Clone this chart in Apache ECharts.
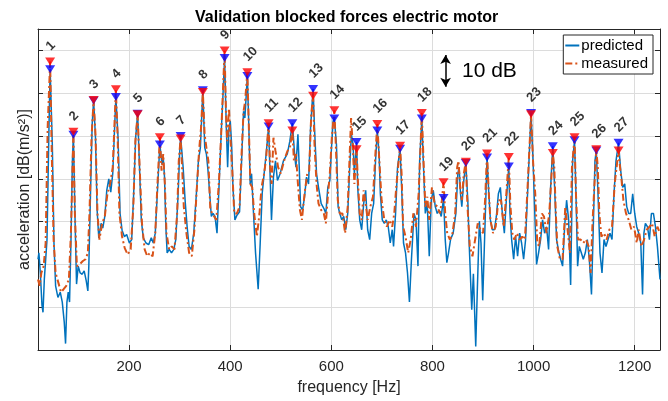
<!DOCTYPE html>
<html><head><meta charset="utf-8">
<script src="https://cdn.jsdelivr.net/npm/echarts@6/dist/echarts.min.js"></script>
<style>html,body{margin:0;padding:0;background:#fff}#c{width:668px;height:401px}</style>
</head><body><div id="c"></div>
<script>
// ---- data ----
const xTicks = [200, 400, 600, 800, 1000, 1200];
const peakFreq = [44,90,130,174,217,261,302,346,389,434,476,523,564,606,650,691,736,779,822,866,908,951,995,1038,1081,1124,1168];
const peakPred = [65.6,50.3,58.3,59.1,55.2,48.0,50.0,60.7,68.2,64.0,52.2,53.0,61.0,54.1,48.6,51.3,47.0,54.1,35.5,43.7,45.0,42.9,55.4,47.6,49.0,46.6,48.4];
const peakMeas = [67.4,51.0,58.4,60.9,55.1,49.7,49.4,60.3,70.0,64.9,53.0,51.3,59.4,56.0,46.9,52.8,47.7,55.4,39.2,44.0,45.9,45.1,55.1,46.0,49.7,46.9,46.6];

const predicted = [
[20,21.2],[21.8,22.7],[24.6,18],[27.9,10.4],[29.9,8.8],[32.5,16.5],[35.1,21],[37.8,25.8],[41.7,52],[44,65.6],[48.3,48],[51.6,25],[54.8,15],[59.4,12.3],[64,13.5],[68,11.2],[71.9,6.5],[74.5,1.5],[77.2,11.2],[79.8,13.5],[82.4,11.2],[85.1,25],[88,44],[90,50.3],[93.6,28.8],[96.2,15.4],[99.5,19.6],[103.4,18],[107.4,17.7],[111.3,18.5],[115.3,16.2],[118.6,13.8],[120.5,19.6],[123.8,36.5],[127.1,52.7],[130,58.3],[133.7,49.6],[136.9,32.7],[140.2,26.2],[144.8,29.6],[148.1,28.5],[152.1,31.2],[156,37.3],[160,40],[163.9,36.9],[167.8,41.2],[171.5,52],[174,59.1],[178.3,49.6],[182.3,31.9],[186.2,28],[190.8,26.5],[195.4,27],[200.7,25],[205.3,25.8],[209.2,36.5],[213.1,49.6],[217,55.2],[220.4,44],[224.3,30.4],[228.2,26.2],[233.5,25],[238.8,24.6],[244,26.2],[248,25],[251.9,27.3],[255.9,36.5],[261,48.0],[265.1,43.5],[267.6,45],[270.2,40.4],
[272.8,28.8],[275.4,22.7],[279.4,23.5],[284,22.7],[288.6,23.5],[292.5,25.8],[297.1,36.5],[300,45.8],[302,50.0],[307,42.7],[310.9,35],[314.9,28.8],[318.8,24.2],[323.4,23.5],[328,27.3],[333.2,36.5],[337.2,44.2],[341.1,47.3],[346,60.7],[349.7,47.3],[353,45.8],[356.2,41.9],[359.5,36.5],[362.8,31.2],[366.1,31.9],[370,31.2],[374,27.3],[377.9,38],[381.9,49.6],[385.8,59.6],[389,68.2],[392.4,51.9],[395,42.7],[397.6,51.9],[400.2,53.5],[402.9,48],[405.5,38],[409.4,30.4],[413.4,31.5],[418.6,32.3],[422.6,44.2],[426.5,55.8],[429.1,54.2],[434,64.0],[437,51.9],[439.6,38.8],[442.3,41.2],[446.2,31.9],[450.2,22.7],[455.4,14.2],[459.4,25],[463.3,36.5],[467.2,41.2],[471.2,45.8],[476,52.2],[479.1,40.4],[481.7,30.4],[485.6,40.4],[489.6,44.2],[493.5,39.6],[498.8,41.2],[505.3,44.2],
[513,45.8],[518,48.8],[523,53.0],[527.4,45.8],[530,42.7],[534,50.4],[536.6,42.7],[539.2,33.5],[543.2,32.7],[547.1,35.8],[551,40.4],[555,38.8],[559,51.9],[564,61.0],[566.8,51.9],[570.8,41.2],[574.7,38],[580,34.2],[585.2,33.1],[589.2,31.9],[593.1,38],[597.1,39.6],[599.7,45.8],[603.6,53.5],[606,54.1],[610.2,48],[613.5,33.5],[616.7,31.9],[620.7,30.4],[624.6,31.2],[628.6,28.1],[632.5,31.9],[636.4,42.7],[639.7,50.4],[643,48],[645.6,41.2],[650,48.6],[652.2,38],[656.2,30.4],[660.1,28.1],[664,34.2],[668,37.3],[671.9,28.1],[675.9,25.8],[679.8,31.9],[683.7,34.2],[687.5,44.2],[691,51.3],[694.5,45.8],[697,36.5],[700.8,30.4],[704.8,29.6],[708.7,30.4],[712.6,28.8],[716.6,25],[720.5,28.1],[723.1,24.2],[727.1,31.9],[731,42.7],[736,47.0],[739.6,36.5],[742.8,25],[746.8,22.7],[750.7,18],[754.5,11.2],[758.5,21.2],
[763.5,31.9],[767.5,30.4],[771.4,19.6],[774.7,44.2],[779,54.1],[781.9,44.2],[785.9,31.9],[789.8,34.2],[793.7,21.9],[797.7,35],[801.6,37.3],[805.6,33.5],[809.5,31.9],[813.4,32.7],[817.4,31.2],[822,35.5],[825.3,25.8],[828.5,20.4],[831.8,22.7],[835.8,25.8],[841,27.3],[846.3,31.9],[850.2,41.2],[852.8,42.7],[855.5,36.5],[858.1,33.5],[862,39.6],[866,43.7],[869.9,35],[872.6,25],[877.7,9.4],[881,17.8],[885.6,0.8],[889,15],[892.8,30.1],[896,25],[899.4,11.6],[904,29.3],[908,45.0],[911.5,36.5],[914.6,30.4],[918.5,28.1],[922.5,28.1],[926.4,31.2],[930.4,36.5],[934.3,38],[938.2,31.9],[942.2,27.3],[946.1,35],[951,42.9],[953.3,31.9],[956.6,25.8],[960.6,21.2],[964.5,26.5],[968.4,21.9],[972.4,27.3],[976.3,25],[980.3,21.2],[984.2,25.8],[988.1,36.5],[995,55.4],[999,44],
[1003.3,28.8],[1005.9,20],[1009.9,22.7],[1013.9,25.8],[1017.8,30.4],[1021.8,27.3],[1025.7,28.8],[1029.7,23.5],[1033.7,38],[1038,47.6],[1041.6,38],[1045.5,25.8],[1049.5,23.1],[1053.5,21.2],[1057.4,19.6],[1061.4,28.8],[1065.3,35],[1069.3,30.4],[1073.3,15.2],[1077.2,44.2],[1081,49.0],[1083.8,36.5],[1087.1,19.6],[1090.4,24.2],[1094.4,22.7],[1098.3,21.2],[1102.3,22.7],[1106.3,25.8],[1110.2,21.2],[1114.5,13],[1118.1,28.8],[1121.4,44.2],[1124,46.6],[1127.4,36.5],[1131.3,22.7],[1135.3,18],[1139.3,25.8],[1143.2,24.2],[1147.2,25.8],[1151.1,27.3],[1155.1,25.8],[1159.1,36.5],[1163,44.2],[1168,48.4],[1172.3,41.9],[1176.2,38],[1180.2,38.8],[1184.2,33.5],[1188.1,31.9],[1192.1,31.9],[1196,36.5],[1200,31.9],[1204,28.8],[1208,27.3],[1212,25],[1215.5,13],[1218.2,27.3],[1221.1,29.6],[1225.1,28.8],[1229.1,25.8],[1233,31.9],[1237,31.9],[1241,28.8],[1244.9,24.2],[1250,16.5]
];

const measured = [
[20,16.5],[23.3,15],[26.6,18],[31.2,19.6],[35.1,25],[39.1,52],[44,67.4],[47,47.3],[50.9,25.8],[54.8,18],[60.1,15.8],[65.4,13.5],[70.6,14.2],[75.9,15],[81.1,16.5],[85.1,27.3],[90,51.0],[92.9,31.9],[96.9,19.6],[102.1,20],[108.7,20.8],[114,21.2],[118.6,22.7],[121.8,31.9],[125.8,49.6],[130,58.4],[133.7,50.4],[137.6,31.9],[141.5,25.8],[146.8,29.6],[152.1,31.2],[157.3,36.5],[162.6,38.8],[167.8,42.7],[174,60.9],[177.5,49.6],[181,31.9],[186.2,26.5],[191.5,23.8],[197.4,22.3],[203.3,23.5],[208.5,33.5],[212.5,48.8],[217,55.1],[221,42.7],[225.6,29.6],[230.9,23.5],[236.1,21.9],[241.4,22.7],[246.6,21.9],[251.9,27.3],[255.9,38],[261,49.7],[264.3,41.9],[267.6,45.8],[270.9,38.8],[274.1,27.3],[279.4,23.5],[284.6,24.2],[289.9,23.5],[295.2,31.9],[298.4,44.2],[302,49.4],[305.3,41.9],[308.3,33.5],[313.5,27.3],[318.8,22.7],[324.1,21.9],[329.3,28.1],[334.6,38.8],[338.5,46.5],[342.4,51.9],[346,60.3],[349.5,50.4],[353,47.3],[356.9,44.2],[360.8,32.7],[364.8,31.9],[368.7,31.9],[372.7,30.4],[377.9,39.6],[381.9,49.6],[389,70.0],[391.8,55],[394.3,48.8],[397.6,56.5],[400.2,50.4],[404.2,41.9],[408.1,31.9],[413.4,31.9],[418.6,33.5],[422.6,45.8],[426.5,55.8],[429.5,58],[434,64.9],[437.5,49.6],[440,38.8],[443.6,38],[447.5,31.9],[452.8,26.5],[458,31.9],[462,38],[467.2,41.2],[471.2,45],[476,53.0],[479,42.7],[482,38.8],[485.6,49.6],[489.6,46.5],[494.8,42.7],[500.1,41.2],[506.6,44.2],[513.2,46.5],
[518.2,47.3],[523,51.3],[526.1,44.2],[530.1,45.8],[534,38.8],[538,32.7],[541.9,30.4],[547.1,36.5],[552.4,41.2],[556.3,41.9],[560.3,55],[564,59.4],[566.8,48],[570.8,38.8],[574.7,34.2],[580,32.7],[585.2,31.9],[589.2,29.6],[593.1,35.8],[597.1,41.2],[601,49.6],[606,56.0],[608.9,48],[612.8,35],[616.7,31.9],[622,31.9],[627.3,27.3],[632.5,33.5],[636.4,45.8],[639.1,54.2],[642.4,48],[645.6,38.8],[650,46.9],[652.2,40.4],[656.2,31.9],[660.1,30.4],[664,37.3],[668,34.2],[671.9,30.4],[677.2,33.5],[682.4,35.8],[687.2,45.8],[691,52.8],[695,44.2],[699.5,35],[704.8,30.4],[710,28.8],[715.3,30.4],[720.5,28.8],[724.5,31.9],[728.4,38],[736,47.7],[739,41.2],[742,28.8],[746.8,26.5],[752,22.7],[757,25.8],
[762.2,31.9],[767.5,28.8],[772.7,36.5],[779,55.4],[781.9,45.8],[785.9,33.5],[789.8,35.8],[793.7,30.4],[799,38],[804.2,34.2],[809.5,33.5],[814.8,31.9],[818.7,35],[822,39.2],[825.3,31.9],[829.2,27.3],[834.5,25.8],[839.7,27.3],[845,31.9],[848.9,42.7],[851.5,44.2],[854.8,38],[858.1,35],[862,41.2],[866,44.0],[869.3,33.5],[873.9,24.2],[879.1,21.9],[884.4,25.8],[889.6,29.6],[894.9,28.1],[900.1,27.3],[904.1,35],[908,45.9],[911.5,36.5],[914.6,30.4],[919.8,27.3],[925.1,28.8],[930.4,35],[935.6,35],[940.9,28.8],[946.1,36.5],[951,45.1],[954,34.2],[957.9,27.3],[961.9,25.8],[967.1,27.3],[972.4,25.8],[977.6,26.5],[982.9,25.8],[988.1,38],[995,55.1],[999,44],
[1003.3,36.5],[1007.3,25],[1011.2,24.2],[1016.5,31.9],[1020.5,31.2],[1025.7,27.3],[1031,31.9],[1038,46.0],[1041,42.7],[1044,31.9],[1046.9,24.2],[1052.1,21.2],[1057.4,21.2],[1062.7,33.5],[1068,27.3],[1071.9,22.7],[1075.9,42.7],[1081,49.7],[1083.8,36.5],[1087.7,25.8],[1093.1,25.8],[1098.3,25],[1103.6,25.8],[1108.9,24.2],[1112.8,18],[1116.8,30.4],[1124,46.9],[1127,42.7],[1130,31.9],[1134,26.5],[1139.3,27.3],[1144.5,25.8],[1149.8,28.1],[1155.1,28.8],[1160.4,38.8],[1168,46.6],[1171,42.7],[1174,39.6],[1177.6,35],[1182.8,31.9],[1188.1,30.4],[1193.4,28.1],[1198.7,28.8],[1204,25],[1208,28.1],[1213.2,24.2],[1218.5,25.8],[1223.8,28.1],[1229.1,28.8],[1234.3,29.6],[1239.6,26.5],[1244.9,28.8],[1250,27.3]
];

// 10 dB scale bar (frequency, dB from-to)
const scaleBar = {f: 826, from: 68.9, to: 61.5};

// ---- chart ----
const FONT = 'Liberation Sans, Arial, Helvetica, sans-serif';
const AX = '#262626';
const chart = echarts.init(document.getElementById('c'), null, {renderer: 'canvas'});
const labelData = peakFreq.map((f, i) => [f, Math.max(peakPred[i], peakMeas[i])]);

chart.setOption({
  animation: false,
  textStyle: {fontFamily: FONT},
  title: {
    text: 'Validation blocked forces electric motor',
    left: 190, top: 5,
    textStyle: {fontFamily: FONT, fontSize: 16, fontWeight: 'bold', color: '#000'}
  },
  grid: {left: 38, right: 8, top: 29, bottom: 48, containLabel: false},
  legend: {
    data: ['predicted', 'measured'],
    orient: 'vertical', right: 15, top: 35, z: 20,
    itemWidth: 14, itemHeight: 10, itemGap: 3,
    padding: [3, 5, 3, 1],
    itemStyle: {opacity: 0},
    backgroundColor: '#fff', borderColor: AX, borderWidth: 1, borderRadius: 0,
    textStyle: {fontFamily: FONT, fontSize: 15, color: '#000', padding: [0, 0, 0, -3]}
  },
  xAxis: [{
    type: 'value', min: 20, max: 1250,
    name: 'frequency [Hz]', nameLocation: 'middle', nameGap: 30,
    nameTextStyle: {fontFamily: FONT, fontSize: 16, color: AX},
    axisLine: {show: true, onZero: false, lineStyle: {color: AX, width: 1}},
    axisTick: {show: true, inside: true, length: 5, customValues: xTicks, lineStyle: {color: AX}},
    axisLabel: {customValues: xTicks, formatter: v => String(v), fontFamily: FONT, fontSize: 15, color: AX, margin: 9},
    splitLine: {show: true, lineStyle: {color: '#dcdcdc', width: 1}}
  }, {
    type: 'value', min: 20, max: 1250, position: 'top',
    axisLine: {show: true, onZero: false, lineStyle: {color: AX, width: 1}},
    axisTick: {show: true, inside: true, length: 5, customValues: xTicks, lineStyle: {color: AX}},
    axisLabel: {show: false}, splitLine: {show: false}
  }],
  yAxis: [{
    type: 'value', min: 0, max: 75, interval: 10,
    name: 'acceleration [dB(m/s²)]', nameLocation: 'middle', nameGap: 5, nameRotate: 90,
    nameTextStyle: {fontFamily: FONT, fontSize: 16, color: AX},
    axisLine: {show: true, onZero: false, lineStyle: {color: AX, width: 1}},
    axisTick: {show: true, inside: true, length: 5, lineStyle: {color: AX}},
    axisLabel: {show: false},
    splitLine: {show: true, lineStyle: {color: '#dcdcdc', width: 1}}
  }, {
    type: 'value', min: 0, max: 75, interval: 10, position: 'right',
    axisLine: {show: true, onZero: false, lineStyle: {color: AX, width: 1}},
    axisTick: {show: true, inside: true, length: 5, lineStyle: {color: AX}},
    axisLabel: {show: false}, splitLine: {show: false}
  }],
  series: [{
    name: 'predicted', type: 'line', data: predicted, showSymbol: false, symbol: 'none',
    lineStyle: {color: '#0072BD', width: 1.5}, itemStyle: {color: '#0072BD'}, z: 2,
    markLine: {
      silent: true, symbol: ['arrow', 'arrow'], symbolSize: [8, 9],
      label: {show: false},
      lineStyle: {color: '#000', width: 1.5, type: 'solid'},
      data: [[{coord: [scaleBar.f, scaleBar.from]}, {coord: [scaleBar.f, scaleBar.to]}]]
    }
  }, {
    name: 'measured', type: 'line', data: measured, showSymbol: false, symbol: 'none',
    lineStyle: {color: '#D95319', width: 2, type: [7, 3, 2, 3]}, itemStyle: {color: '#D95319'}, z: 3
  }, {
    name: 'predPeaks', type: 'scatter', data: peakFreq.map((f, i) => [f, peakPred[i]]),
    symbol: 'triangle', symbolRotate: 180, symbolSize: [10, 8],
    itemStyle: {color: '#0000ff'}, z: 4, silent: true
  }, {
    name: 'measPeaks', type: 'scatter', data: peakFreq.map((f, i) => [f, peakMeas[i]]),
    symbol: 'triangle', symbolRotate: 180, symbolSize: [10, 8],
    itemStyle: {color: '#ff0000'}, z: 5, silent: true
  }, {
    name: 'peakLabels', type: 'scatter', data: labelData, symbolSize: 0, z: 6, silent: true,
    label: {
      show: true, position: [-2, -13], align: 'left', verticalAlign: 'middle', rotate: 45,
      formatter: p => String(p.dataIndex + 1),
      fontFamily: FONT, fontSize: 13, fontWeight: 'bold', color: '#000'
    }
  }],
  graphic: [{
    type: 'text', left: 462, top: 61, z: 30,
    style: {text: '10 dB', fontFamily: FONT, fontSize: 21, fill: '#000'}
  }]
});
</script>
</body></html>
